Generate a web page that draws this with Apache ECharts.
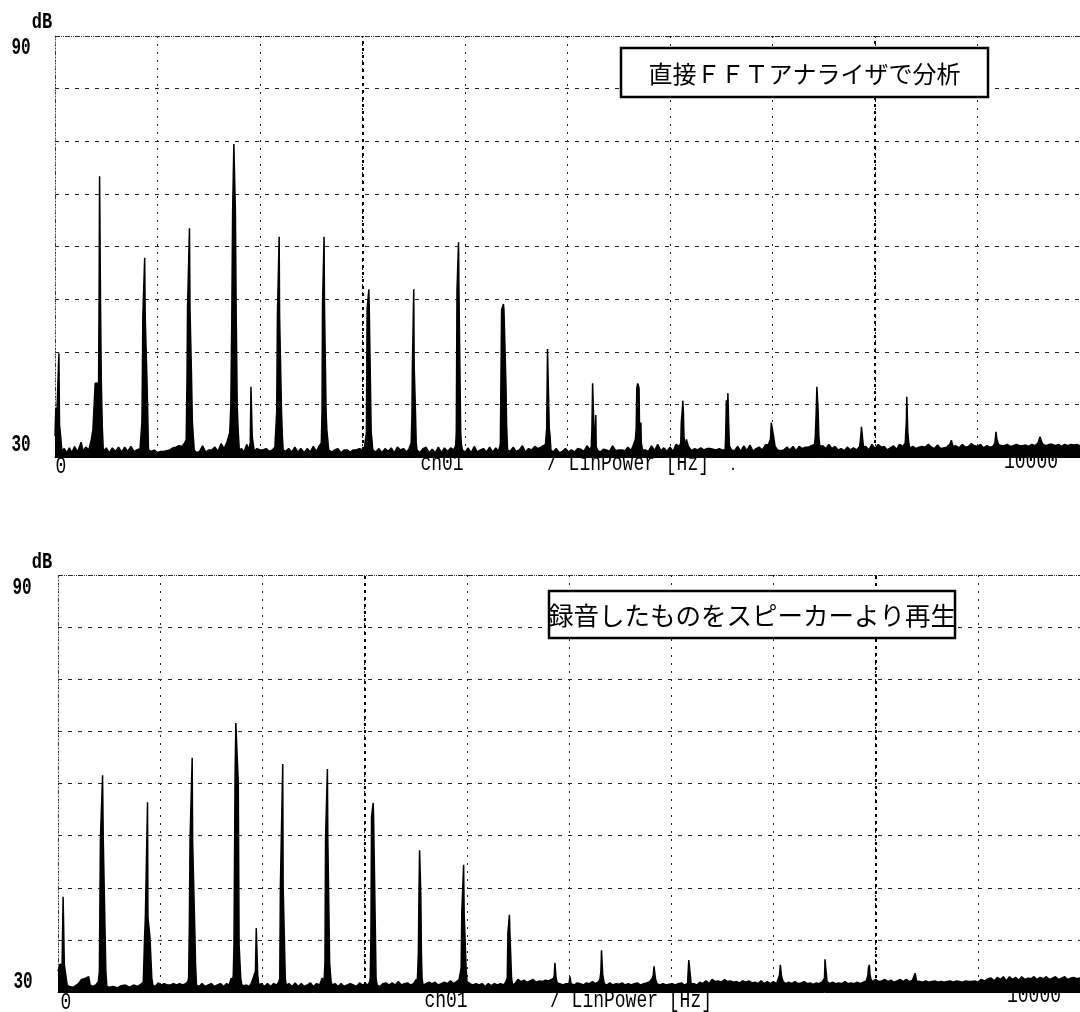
<!DOCTYPE html>
<html>
<head>
<meta charset="utf-8">
<script src="https://cdn.jsdelivr.net/npm/echarts@6/dist/echarts.min.js"></script>
<style>
html,body{margin:0;padding:0;background:#fff;}
#chart{width:1080px;height:1012px;}
</style>
</head>
<body>
<div id="chart"></div>
<script>
// ---------- data (Hz, dB) ----------
const titleTop = '直接ＦＦＴアナライザで分析';
const titleBottom = '録音したものをスピーカーより再生';
const yTickLabels = ['90', '30'];
const yUnit = 'dB';
const xTickLabels = ['0', '10000'];
const xChannel = 'ch01';
const xUnit = '/ LinPower [Hz]';

const spectrumTop = [
[0,33],[8,37],[15,34.6],[30,34.6],[38,44.8],[44,34.6],[55,33],[68,30.8],
[90,31.2],[115,30.6],[140,31.3],[165,30.6],[190,31.5],[220,30.7],[255,32.1],[275,30.8],[300,31.4],[330,31.0],[355,32.5],
[370,33.9],[385,34],[392,40.5],[425,40.5],[430,52],[435,70],[440,70],[444,52],[452,40.5],[462,34],[472,30.8],
[500,31.3],[530,30.6],[560,31.3],[590,30.8],[620,31.4],[650,30.7],[680,31.4],[710,30.8],[740,31.5],[770,30.8],[800,31],[830,31.2],
[840,31],[848,35],[852,40.5],[857,50.1],[870,50.1],[875,58.4],[880,50.1],[893,50.1],[898,40.5],[905,36],[912,31],
[940,30.8],[970,31.0],[1000,30.6],[1030,30.8],[1060,30.8],[1090,30.9],[1120,31.0],[1150,31.3],[1180,31.4],[1210,31.6],[1240,31.5],[1265,32],
[1280,32.5],[1288,41.4],[1293,51.2],[1307,51.2],[1312,62.6],[1317,51.2],[1328,51.2],[1332,41.4],[1340,35],[1348,33.2],[1358,31],
[1380,30.6],[1410,30.8],[1440,31.6],[1470,30.7],[1500,31.0],[1530,31.0],[1560,31.4],[1590,30.8],[1620,31.9],[1650,31.2],[1680,32.2],[1695,33],
[1705,33.5],[1715,37.1],[1725,50],[1733,65],[1745,74.6],[1753,74.6],[1760,65],[1768,50],[1778,37.1],[1788,33.5],[1798,31],
[1820,31.2],[1845,30.7],[1870,31.8],[1890,31],[1905,32],[1912,40],[1918,40],[1924,33],[1932,32],[1945,30.8],[1970,31.2],[2000,31.0],[2030,31],[2060,31.2],[2090,30.8],[2120,31.0],[2145,31.4],
[2155,31.5],[2163,36.4],[2170,50.2],[2183,50.2],[2187,61.4],[2191,50.2],[2203,50.2],[2210,36.4],[2218,33],[2226,31],
[2250,30.8],[2280,31.2],[2310,30.7],[2340,31.4],[2370,30.7],[2400,31.2],[2430,30.6],[2460,31.2],[2490,30.7],[2520,31.5],[2550,30.8],[2575,31.5],[2590,31.5],
[2598,32],[2605,36.3],[2610,51.7],[2621,51.7],[2625,61.4],[2629,51.7],[2640,51.7],[2645,36.3],[2652,33.9],[2662,33.9],[2670,31],
[2700,30.7],[2730,31.0],[2760,31.2],[2790,30.6],[2820,31.0],[2850,31.0],[2880,30.7],[2910,31.0],[2940,31.0],[2970,31.2],[3000,31.0],[3020,31.5],[3032,31.6],
[3038,33.4],[3045,51],[3058,51],[3062,53.9],[3066,51],[3078,51],[3085,33.4],[3092,32.5],[3100,31],
[3130,30.7],[3160,31.2],[3190,30.6],[3220,31.2],[3250,30.8],[3280,31.3],[3310,30.6],[3340,31.4],[3370,31],[3400,31.2],[3430,30.7],[3455,31.2],[3468,31.2],
[3475,32],[3482,35.7],[3487,43.1],[3496,43.1],[3500,53.9],[3504,43.1],[3513,43.1],[3518,35.7],[3524,32],[3532,31],
[3560,30.6],[3590,31.2],[3620,31.4],[3650,30.6],[3680,31.1],[3710,30.6],[3740,31.4],[3770,30.6],[3800,31.3],[3830,30.8],[3860,31.3],[3890,31.0],[3908,31.6],
[3915,33.4],[3922,53.8],[3933,53.8],[3937,60.6],[3941,53.8],[3952,53.8],[3958,33.4],[3965,31.8],[3975,31],
[4000,30.7],[4030,31.3],[4060,30.6],[4090,31.5],[4120,30.7],[4150,31.0],[4180,31.2],[4210,30.7],[4240,31.4],[4270,30.7],[4300,31.3],[4325,30.8],[4340,31.5],
[4345,32],[4350,40],[4357,51],[4370,51],[4375,51.8],[4380,51],[4393,51],[4400,40],[4406,34.5],[4415,31],
[4440,30.8],[4470,31.4],[4500,30.8],[4530,31.0],[4560,31.6],[4590,30.7],[4620,31.2],[4650,31.0],[4680,31.5],[4710,31.2],[4740,31.4],[4765,31.6],[4785,31.8],
[4790,32],[4797,34.1],[4805,45.4],[4815,45.4],[4822,34.1],[4830,33],[4838,31],
[4860,30.7],[4890,31.2],[4920,30.6],[4950,30.8],[4980,31.2],[5010,30.7],[5040,31],[5070,30.7],[5100,31.2],[5130,31.1],[5160,30.8],[5190,31.6],[5220,31.0],
[5232,31.5],[5238,33.9],[5245,40.5],[5252,40.5],[5258,33.9],[5266,31.5],[5272,31.6],[5276,36],[5280,31.5],[5292,31],
[5320,30.7],[5350,31.1],[5380,31.0],[5410,30.8],[5440,31.6],[5470,30.9],[5500,31.0],[5530,31.0],[5560,30.9],[5590,31.4],[5620,30.9],[5645,31.8],[5662,32.5],
[5670,34],[5676,39.8],[5685,40.5],[5690,40.5],[5698,39.8],[5703,34],[5708,32],[5712,33],[5716,34.9],[5720,32],[5732,31],
[5760,31.0],[5790,30.8],[5820,31.6],[5850,30.9],[5880,31.8],[5910,30.9],[5940,31.3],[5970,30.8],[6000,31.4],[6030,30.8],[6060,31.8],[6090,31.5],[6105,32],
[6110,34.9],[6117,34.9],[6120,36.7],[6125,38.0],[6130,36.7],[6136,33],[6145,31.5],[6160,32.5],[6180,31.5],
[6210,30.9],[6240,31.2],[6270,31.0],[6300,31.3],[6330,31.0],[6360,31.2],[6390,31.2],[6420,31.1],[6450,31.0],[6480,31.2],[6510,31.0],[6538,31.0],
[6543,33],[6550,38.1],[6555,34.9],[6560,34.9],[6565,39.1],[6572,34.9],[6580,31.6],[6600,31],
[6630,30.9],[6660,31.5],[6690,30.8],[6720,31.6],[6750,30.9],[6780,31.7],[6810,30.8],[6840,31.2],[6870,31.4],[6900,31.0],[6930,31.7],[6960,31.8],[6980,32.5],
[6988,34.9],[7002,34.9],[7010,33],[7025,31.5],
[7050,31],[7080,30.9],[7110,31.0],[7140,31.4],[7170,31.0],[7200,31.5],[7230,30.9],[7260,31.5],[7290,31.2],[7320,31.4],[7350,31.4],[7380,31.6],[7410,31.8],
[7418,33],[7426,36.3],[7433,40],[7440,40],[7446,36.3],[7452,33],[7462,31.5],
[7490,31.6],[7520,31.2],[7550,31.8],[7580,31.2],[7610,31.5],[7640,31.0],[7670,31.2],[7700,30.9],[7730,31.4],[7760,31.0],[7790,31.3],[7820,31.0],[7850,31.5],
[7862,33],[7868,34.3],[7880,34.3],[7887,31.5],
[7910,31.5],[7940,31.0],[7970,31.8],[8000,31.2],[8030,31.8],[8060,31.4],[8090,31.5],[8120,31.0],[8150,31.3],[8180,31.6],[8210,31.1],[8240,31.8],[8270,31.5],[8295,32],
[8300,33.6],[8306,35],[8310,38.6],[8316,38.6],[8320,33.6],[8328,32.2],[8338,31.3],
[8370,31.5],[8400,31.2],[8430,31.4],[8460,31.5],[8490,31.4],[8520,31.8],[8550,31.4],[8580,31.2],[8610,31.7],[8640,31.2],[8670,31.3],[8700,31.4],[8730,31.8],
[8745,32.4],[8760,31.5],
[8790,31.6],[8820,31.3],[8850,31.8],[8880,31.4],[8910,31.5],[8940,31.9],[8970,31.6],[9000,31.5],[9030,31.8],[9060,31.3],[9090,31.6],[9120,31.4],[9150,31.5],[9170,32.0],
[9180,33.6],[9190,32.5],[9205,31.8],
[9230,31.6],[9260,31.6],[9290,31.8],[9320,31.5],[9350,31.6],[9380,31.8],[9410,31.6],[9440,31.6],[9470,31.7],[9500,31.5],[9530,31.8],[9560,31.6],[9590,32],
[9610,32.9],[9625,32.2],[9640,31.8],
[9670,31.6],[9700,31.8],[9730,31.8],[9760,31.6],[9790,31.8],[9820,31.5],[9850,31.8],[9880,31.6],[9910,31.8],[9940,31.7],[9970,31.8],[10000,31.6]
];

const spectrumBottom = [
[0,33],[20,34],[40,33.9],[50,43.7],[55,43.7],[62,33.9],[75,33.9],[90,31],
[110,30.8],[150,30.7],[180,31.0],[200,31.2],[230,31.8],[270,32.0],[300,32.2],[315,31],
[340,30.8],[370,31.0],[395,31.5],[405,33],[415,51.9],[433,51.9],[436,61.2],[440,61.2],[443,51.9],[460,51.9],[468,33],[478,30.8],
[500,30.7],[540,30.8],[580,30.6],[620,30.9],[660,31.0],[700,30.7],[740,31.0],[780,30.8],[820,31.2],[835,31.5],
[840,31.5],[847,37.8],[855,40.8],[872,40.8],[876,57.3],[880,40.8],[895,40.8],[900,37.8],[910,37.8],[918,32],[928,31],
[950,30.8],[980,31.3],[1010,31.0],[1040,31.2],[1070,31.0],[1100,31.0],[1130,31.2],[1160,31.0],[1190,31.2],[1220,31.0],[1250,31.2],[1270,31.5],
[1278,32],[1285,39.2],[1292,51.9],[1309,51.9],[1313,63.7],[1317,51.9],[1333,51.9],[1338,39.2],[1346,34],[1355,31],
[1380,30.8],[1410,31.2],[1440,30.8],[1470,31.0],[1500,31.2],[1530,30.8],[1560,31.0],[1590,31.2],[1620,30.8],[1650,31.2],[1675,31.0],[1695,32.0],[1708,31.5],
[1715,32.5],[1722,36.8],[1732,60],[1740,68.7],[1756,68.7],[1764,60],[1772,36.8],[1780,36.8],[1788,32],[1798,31],
[1820,30.9],[1845,31.0],[1870,30.8],[1890,31.2],[1905,31],
[1932,33],[1940,39.2],[1948,39.2],[1954,32.5],[1965,31],
[1990,31.2],[2020,30.8],[2050,31.2],[2080,30.8],[2110,31.2],[2140,31.0],[2162,31.5],
[2170,32],[2176,45.1],[2195,45.1],[2199,62.8],[2203,45.1],[2218,45.1],[2224,32],[2232,31],
[2260,31.2],[2290,30.8],[2320,31.3],[2350,30.8],[2380,31.2],[2410,30.8],[2440,31.0],[2470,31.3],[2500,30.8],[2530,31.2],[2560,31.0],[2585,32.0],[2598,31.5],
[2605,32],[2612,34.2],[2618,52.2],[2632,52.2],[2636,62.1],[2640,52.2],[2652,52.2],[2658,34.2],[2666,34.2],[2672,31.5],[2682,31],
[2710,31.2],[2740,30.8],[2770,31.2],[2800,30.8],[2830,31.0],[2860,31.2],[2890,31.0],[2920,30.8],[2950,31.3],[2980,31.0],[3010,31.2],[3035,31.0],[3050,31.5],
[3055,32],[3062,38.2],[3068,55.2],[3080,55.2],[3084,57.2],[3088,55.2],[3100,55.2],[3106,38.2],[3112,32],[3122,31],
[3150,30.8],[3180,31.2],[3210,31.3],[3240,31.0],[3270,31.3],[3300,31.0],[3330,31.5],[3360,31.0],[3390,31.2],[3420,31.3],[3450,31.0],[3480,31.2],[3505,31.8],[3515,31.5],
[3520,33],[3526,35.6],[3532,44],[3538,50.4],[3544,50.4],[3550,44],[3556,35.6],[3562,32],[3572,31],
[3600,31.2],[3630,31.4],[3660,31.2],[3690,31.4],[3720,31.0],[3750,31.2],[3780,31.4],[3810,31.2],[3840,31.6],[3870,31.2],[3900,31.5],[3925,31.8],[3940,32],
[3945,33.5],[3951,41.5],[3964,41.5],[3969,48.3],[3974,41.5],[3987,41.5],[3993,33.5],[4002,31.5],
[4030,31.2],[4060,31.0],[4090,31.2],[4120,31.0],[4150,31.2],[4180,30.8],[4210,31.2],[4240,30.9],[4270,31.2],[4300,31.0],[4330,31.2],[4360,31.0],[4380,31.4],[4390,31.5],
[4396,32],[4402,38.5],[4412,38.5],[4417,41.1],[4422,38.5],[4432,38.5],[4438,32],[4448,31],
[4470,31.2],[4500,31.8],[4530,31.5],[4560,31.7],[4590,31.4],[4620,31.6],[4650,31.8],[4680,31.4],[4710,31.6],[4740,31.5],[4770,31.7],[4800,31.6],[4830,31.8],[4850,32],
[4856,32.5],[4862,34.2],[4868,34.2],[4874,32],[4885,31.3],
[4910,31.2],[4940,31.0],[4970,31.2],[5000,31.2],[5010,32.2],[5020,31.2],[5050,31.0],[5080,31.3],[5110,31.2],[5140,31.0],[5170,31.3],[5200,31.2],[5230,31.5],[5260,31.2],[5290,31.5],[5305,32],
[5312,33],[5318,36.0],[5325,36.0],[5330,32.5],[5345,31.2],
[5370,31.0],[5400,31.3],[5430,31.0],[5460,31.2],[5490,31.1],[5520,31.3],[5550,31.0],[5580,31.2],[5610,31.0],[5640,31.2],[5670,31.3],[5700,31.0],[5730,31.2],[5760,31.3],[5790,31.5],[5815,32],
[5825,32.5],[5832,33.7],[5840,33.7],[5845,32],[5860,31.2],
[5890,31.0],[5920,31.2],[5950,31.0],[5980,31.1],[6010,31.2],[6040,31.0],[6070,31.2],[6100,31.3],[6130,31.0],[6160,31.2],[6170,31.2],
[6172,34.6],[6190,34.6],[6195,31.2],
[6220,31.2],[6250,31.0],[6280,31.4],[6310,31.2],[6340,31.6],[6370,31.2],[6400,31.8],[6430,31.5],[6460,31.6],[6490,31.4],[6520,31.8],[6550,31.5],[6580,31.6],[6610,31.4],[6640,31.5],[6670,31.3],[6700,31.6],[6730,31.4],[6760,31.6],[6790,31.3],[6820,31.4],[6850,31.2],[6880,31.6],[6910,31.2],[6940,31.5],[6970,31.2],[7000,31.5],[7030,31.2],[7050,32],
[7060,32.5],[7068,33.9],[7075,33.9],[7080,32.2],[7095,31.5],
[7120,31.2],[7150,31.4],[7180,31.2],[7210,31.5],[7240,31.2],[7270,31.3],[7300,31.5],[7330,31.2],[7360,31.3],[7390,31.1],[7420,31.3],[7450,31.2],[7480,31.5],[7500,32],
[7505,34.7],[7520,34.7],[7525,31.5],
[7550,31.2],[7580,31.4],[7610,31.2],[7640,31.3],[7670,31.2],[7700,31.5],[7730,31.2],[7760,31.3],[7790,31.2],[7820,31.4],[7850,31.2],[7880,31.4],[7910,31.6],[7925,32.5],
[7930,33.5],[7939,33.9],[7945,32.5],[7955,31.8],[7970,31.5],
[8000,31.8],[8030,31.5],[8060,31.6],[8090,31.8],[8120,31.5],[8150,31.7],[8180,31.4],[8210,31.6],[8240,31.8],[8270,31.5],[8300,31.8],[8330,31.5],[8360,31.7],[8387,32.7],[8400,31.6],
[8430,31.5],[8460,31.4],[8490,31.6],[8520,31.4],[8550,31.5],[8580,31.6],[8610,31.4],[8640,31.5],[8670,31.4],[8700,31.5],[8730,31.6],[8760,31.4],[8790,31.6],[8820,31.5],[8850,31.4],
[8880,31.6],[8910,31.5],[8940,31.5],[8970,31.6],[9000,31.4],[9030,31.8],[9048,32.0],[9070,31.6],[9100,31.9],[9130,32.0],[9160,31.6],[9190,32.1],[9220,31.8],[9250,32.2],[9280,31.6],
[9310,32.2],[9340,31.8],[9370,32.1],[9400,31.7],[9430,32.2],[9460,31.8],[9490,32.0],[9520,31.9],[9550,32.2],[9580,31.8],[9610,32.1],[9640,31.9],[9670,32.2],[9700,31.8],[9730,32.0],
[9760,32.2],[9790,31.8],[9820,32.0],[9850,32.2],[9880,31.8],[9910,32.0],[9940,32.1],[9970,31.9],[10000,32.0]
];

// ---------- chart ----------
const chart = echarts.init(document.getElementById('chart'), null, {renderer: 'canvas'});

function xAx(gi) {
  return {
    gridIndex: gi, type: 'value', min: 0, max: 10000, interval: 1000,
    axisLabel: {show: false}, axisTick: {show: false},
    axisLine: {show: true, onZero: false, lineStyle: {color: '#000', width: 1}},
    splitLine: {show: true, lineStyle: {color: '#222', type: [2, 6], width: 1}}
  };
}
function yAx(gi) {
  return {
    gridIndex: gi, type: 'value', min: 30, max: 90, interval: 7.5,
    axisLabel: {show: false}, axisTick: {show: false},
    axisLine: {show: true, lineStyle: {color: '#444', type: [1, 2], width: 1}},
    splitLine: {show: true, lineStyle: {color: '#222', type: [4, 6], width: 1}}
  };
}
function ser(i, data) {
  return {
    type: 'line', xAxisIndex: i, yAxisIndex: i, data: data,
    showSymbol: false, symbol: 'none', smooth: false, sampling: null,
    lineStyle: {color: '#000', width: 1.5},
    areaStyle: {color: '#000', opacity: 1, origin: 'start'},
    silent: true, animation: false, z: 3,
    markLine: {
      silent: true, symbol: 'none', label: {show: false}, animation: false,
      data: [
        {xAxis: 3000, lineStyle: {color: '#000', type: [3, 4], width: 2}},
        {xAxis: 8000, lineStyle: {color: '#000', type: [3, 4], width: 2}},
        {yAxis: 90, lineStyle: {color: '#333', type: [1, 1], width: 1}}
      ]
    }
  };
}
// text stretched vertically (tall narrow instrument font) via a scaled group
function txt(x, y, s, size, align, sy, weight, font) {
  return {
    type: 'group', x: x, y: y, scaleX: 1, scaleY: sy, z: 50,
    children: [{
      type: 'text', x: 0, y: 0, z: 50,
      style: {
        text: s, fontSize: size, fontFamily: font || 'Liberation Mono',
        fontWeight: weight || 'normal', fill: '#000',
        textAlign: align, textVerticalAlign: 'middle', align: align, verticalAlign: 'middle'
      }
    }]
  };
}
function box(x, y, w, h, s, size) {
  return [
    {type: 'rect', z: 60, shape: {x: x, y: y, width: w, height: h},
     style: {fill: '#fff', stroke: '#000', lineWidth: 2.5}},
    {type: 'text', x: x + w / 2, y: y + h / 2 + 1, z: 61,
     style: {text: s, fontSize: size, fontFamily: 'Noto Sans CJK JP', fill: '#000',
             textAlign: 'center', textVerticalAlign: 'middle', align: 'center', verticalAlign: 'middle'}}
  ];
}

const graphics = [
  txt(42, 22, yUnit, 17, 'center', 1.3, 'bold'),
  txt(21, 48, yTickLabels[0], 16, 'center', 1.45, 'bold'),
  txt(21, 445, yTickLabels[1], 16, 'center', 1.45, 'bold'),
  txt(61, 467, xTickLabels[0], 18, 'center', 1.35),
  txt(442, 464, xChannel, 18, 'center', 1.35),
  txt(547, 464, xUnit, 18, 'left', 1.35),
  txt(733, 466, '.', 14, 'center', 1),
  txt(1031, 462, xTickLabels[1], 18, 'center', 1.35),

  txt(42, 562, yUnit, 17, 'center', 1.3, 'bold'),
  txt(22, 588, yTickLabels[0], 16, 'center', 1.45, 'bold'),
  txt(23, 982, yTickLabels[1], 16, 'center', 1.45, 'bold'),
  txt(66, 1003, xTickLabels[0], 18, 'center', 1.35),
  txt(446, 1001, xChannel, 18, 'center', 1.35),
  txt(550, 1001, xUnit, 18, 'left', 1.35),
  txt(1034, 996, xTickLabels[1], 18, 'center', 1.35)
].concat(box(621, 48, 367, 49, titleTop, 24))
 .concat(box(549, 591, 406, 47, titleBottom, 25.5));

chart.setOption({
  backgroundColor: '#fff',
  animation: false,
  grid: [
    {left: 55, top: 36, width: 1027, height: 421},
    {left: 58, top: 575, width: 1028, height: 417}
  ],
  xAxis: [xAx(0), xAx(1)],
  yAxis: [yAx(0), yAx(1)],
  series: [ser(0, spectrumTop), ser(1, spectrumBottom)],
  graphic: graphics
});
</script>
</body>
</html>
